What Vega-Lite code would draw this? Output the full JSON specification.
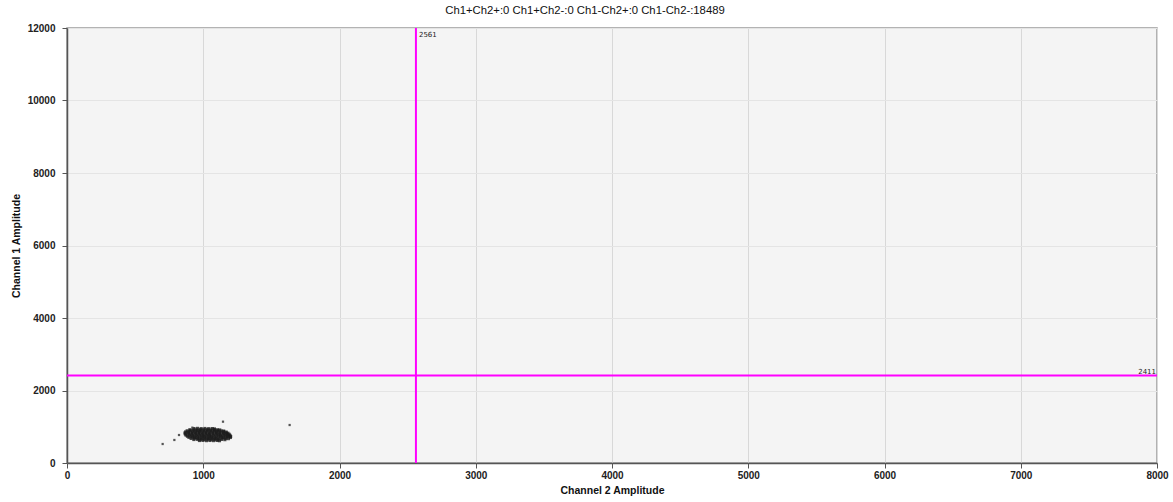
{
  "$schema": "https://vega.github.io/schema/vega-lite/v6.json",
  "width": 1090,
  "height": 435,
  "autosize": {"type": "none"},
  "padding": {"left": 67, "top": 28, "right": 16, "bottom": 39},
  "background": "white",
  "title": {
    "text": "Ch1+Ch2+:0  Ch1+Ch2-:0  Ch1-Ch2+:0  Ch1-Ch2-:18489",
    "font": "Liberation Sans",
    "fontSize": 11.3,
    "fontWeight": 500,
    "color": "#111111",
    "anchor": "middle",
    "dx": -27,
    "offset": 7
  },
  "config": {
    "view": {"fill": "#f4f4f4", "stroke": "#9a9a9a", "strokeWidth": 1.5},
    "axis": {
      "labelFont": "Liberation Sans",
      "labelFontWeight": "bold",
      "labelFontSize": 10,
      "labelColor": "#222222",
      "labelFlush": false,
      "labelOverlap": false,
      "titleFont": "Liberation Sans",
      "titleFontWeight": "bold",
      "titleFontSize": 10.5,
      "titleColor": "#111111",
      "tickColor": "#555555",
      "tickSize": 5,
      "domainColor": "#555555",
      "domainWidth": 1.5
    }
  },
  "datasets": {
    "cluster": [
      {"ch2": 932, "ch1": 950}, {"ch2": 958, "ch1": 955}, {"ch2": 985, "ch1": 948}, {"ch2": 1012, "ch1": 952}, {"ch2": 1040, "ch1": 946}, {"ch2": 1066, "ch1": 950}, {"ch2": 1082, "ch1": 940},
      {"ch2": 902, "ch1": 918}, {"ch2": 927, "ch1": 924}, {"ch2": 951, "ch1": 916}, {"ch2": 978, "ch1": 922}, {"ch2": 1003, "ch1": 918}, {"ch2": 1029, "ch1": 925}, {"ch2": 1054, "ch1": 914}, {"ch2": 1079, "ch1": 921}, {"ch2": 1103, "ch1": 917}, {"ch2": 1121, "ch1": 912},
      {"ch2": 882, "ch1": 888}, {"ch2": 906, "ch1": 893}, {"ch2": 931, "ch1": 886}, {"ch2": 957, "ch1": 891}, {"ch2": 981, "ch1": 895}, {"ch2": 1006, "ch1": 887}, {"ch2": 1032, "ch1": 892}, {"ch2": 1057, "ch1": 885}, {"ch2": 1083, "ch1": 890}, {"ch2": 1108, "ch1": 894}, {"ch2": 1131, "ch1": 886}, {"ch2": 1150, "ch1": 881},
      {"ch2": 871, "ch1": 858}, {"ch2": 895, "ch1": 863}, {"ch2": 921, "ch1": 856}, {"ch2": 946, "ch1": 861}, {"ch2": 972, "ch1": 865}, {"ch2": 997, "ch1": 857}, {"ch2": 1022, "ch1": 862}, {"ch2": 1048, "ch1": 855}, {"ch2": 1073, "ch1": 860}, {"ch2": 1098, "ch1": 864}, {"ch2": 1124, "ch1": 857}, {"ch2": 1149, "ch1": 862}, {"ch2": 1168, "ch1": 853},
      {"ch2": 866, "ch1": 829}, {"ch2": 891, "ch1": 834}, {"ch2": 916, "ch1": 826}, {"ch2": 942, "ch1": 831}, {"ch2": 967, "ch1": 835}, {"ch2": 992, "ch1": 828}, {"ch2": 1018, "ch1": 833}, {"ch2": 1043, "ch1": 826}, {"ch2": 1069, "ch1": 830}, {"ch2": 1094, "ch1": 836}, {"ch2": 1119, "ch1": 828}, {"ch2": 1145, "ch1": 832}, {"ch2": 1168, "ch1": 827}, {"ch2": 1181, "ch1": 822},
      {"ch2": 869, "ch1": 798}, {"ch2": 894, "ch1": 804}, {"ch2": 919, "ch1": 796}, {"ch2": 945, "ch1": 801}, {"ch2": 970, "ch1": 805}, {"ch2": 996, "ch1": 797}, {"ch2": 1021, "ch1": 802}, {"ch2": 1046, "ch1": 795}, {"ch2": 1072, "ch1": 800}, {"ch2": 1097, "ch1": 806}, {"ch2": 1122, "ch1": 798}, {"ch2": 1148, "ch1": 803}, {"ch2": 1172, "ch1": 797}, {"ch2": 1190, "ch1": 792},
      {"ch2": 874, "ch1": 768}, {"ch2": 899, "ch1": 774}, {"ch2": 925, "ch1": 766}, {"ch2": 950, "ch1": 771}, {"ch2": 975, "ch1": 775}, {"ch2": 1001, "ch1": 767}, {"ch2": 1026, "ch1": 772}, {"ch2": 1051, "ch1": 765}, {"ch2": 1077, "ch1": 770}, {"ch2": 1102, "ch1": 776}, {"ch2": 1127, "ch1": 768}, {"ch2": 1153, "ch1": 773}, {"ch2": 1178, "ch1": 766}, {"ch2": 1196, "ch1": 761},
      {"ch2": 884, "ch1": 738}, {"ch2": 909, "ch1": 744}, {"ch2": 934, "ch1": 736}, {"ch2": 960, "ch1": 741}, {"ch2": 985, "ch1": 745}, {"ch2": 1010, "ch1": 737}, {"ch2": 1036, "ch1": 742}, {"ch2": 1061, "ch1": 735}, {"ch2": 1087, "ch1": 740}, {"ch2": 1112, "ch1": 746}, {"ch2": 1137, "ch1": 738}, {"ch2": 1163, "ch1": 743}, {"ch2": 1186, "ch1": 736}, {"ch2": 1201, "ch1": 731},
      {"ch2": 895, "ch1": 708}, {"ch2": 920, "ch1": 714}, {"ch2": 946, "ch1": 706}, {"ch2": 971, "ch1": 711}, {"ch2": 996, "ch1": 715}, {"ch2": 1022, "ch1": 707}, {"ch2": 1047, "ch1": 712}, {"ch2": 1072, "ch1": 705}, {"ch2": 1098, "ch1": 710}, {"ch2": 1123, "ch1": 716}, {"ch2": 1148, "ch1": 708}, {"ch2": 1174, "ch1": 713}, {"ch2": 1199, "ch1": 704},
      {"ch2": 911, "ch1": 678}, {"ch2": 936, "ch1": 684}, {"ch2": 962, "ch1": 676}, {"ch2": 987, "ch1": 681}, {"ch2": 1012, "ch1": 685}, {"ch2": 1038, "ch1": 677}, {"ch2": 1063, "ch1": 682}, {"ch2": 1089, "ch1": 675}, {"ch2": 1114, "ch1": 680}, {"ch2": 1139, "ch1": 686}, {"ch2": 1165, "ch1": 678}, {"ch2": 1185, "ch1": 672},
      {"ch2": 931, "ch1": 648}, {"ch2": 957, "ch1": 653}, {"ch2": 982, "ch1": 646}, {"ch2": 1007, "ch1": 651}, {"ch2": 1033, "ch1": 655}, {"ch2": 1058, "ch1": 647}, {"ch2": 1084, "ch1": 652}, {"ch2": 1109, "ch1": 645}, {"ch2": 1135, "ch1": 650}, {"ch2": 1159, "ch1": 644},
      {"ch2": 972, "ch1": 620}, {"ch2": 998, "ch1": 624}, {"ch2": 1024, "ch1": 617}, {"ch2": 1049, "ch1": 622}, {"ch2": 1075, "ch1": 618}, {"ch2": 1101, "ch1": 623}, {"ch2": 1119, "ch1": 615}
    ],
    "outliers": [
      {"ch2": 702, "ch1": 524},
      {"ch2": 788, "ch1": 635},
      {"ch2": 822, "ch1": 772},
      {"ch2": 920, "ch1": 975},
      {"ch2": 1145, "ch1": 1140},
      {"ch2": 1634, "ch1": 1048}
    ],
    "thresholdCh2": [{"ch2": 2561, "ch1": 12000, "label": "2561"}],
    "thresholdCh1": [{"ch2": 8000, "ch1": 2411, "label": "2411"}]
  },
  "layer": [
    {
      "data": {"name": "cluster"},
      "mark": {"type": "point", "shape": "square", "filled": true, "size": 10, "color": "#1c1c1c", "opacity": 0.8},
      "encoding": {
        "x": {
          "field": "ch2",
          "type": "quantitative",
          "scale": {"domain": [0, 8000], "nice": false},
          "axis": {
            "title": "Channel 2 Amplitude",
            "values": [0, 1000, 2000, 3000, 4000, 5000, 6000, 7000, 8000],
            "format": "d",
            "labelPadding": 2,
            "titlePadding": 5,
            "grid": true,
            "gridColor": "#d8d8d8",
            "gridWidth": 1
          }
        },
        "y": {
          "field": "ch1",
          "type": "quantitative",
          "scale": {"domain": [0, 12000], "nice": false},
          "axis": {
            "title": "Channel 1 Amplitude",
            "values": [0, 2000, 4000, 6000, 8000, 10000, 12000],
            "format": "d",
            "labelPadding": 7,
            "titlePadding": 6,
            "grid": true,
            "gridColor": "#e4e4e4",
            "gridWidth": 1
          }
        }
      }
    },
    {
      "data": {"name": "outliers"},
      "mark": {"type": "point", "shape": "square", "filled": true, "size": 5, "color": "#444444", "opacity": 0.9},
      "encoding": {
        "x": {"field": "ch2", "type": "quantitative"},
        "y": {"field": "ch1", "type": "quantitative"}
      }
    },
    {
      "data": {"name": "thresholdCh2"},
      "mark": {"type": "rule", "color": "#ff00ff", "strokeWidth": 2},
      "encoding": {
        "x": {"field": "ch2", "type": "quantitative"}
      }
    },
    {
      "data": {"name": "thresholdCh1"},
      "mark": {"type": "rule", "color": "#ff00ff", "strokeWidth": 2},
      "encoding": {
        "y": {"field": "ch1", "type": "quantitative"}
      }
    },
    {
      "data": {"name": "thresholdCh2"},
      "mark": {"type": "text", "align": "left", "baseline": "top", "dx": 3, "dy": 3, "font": "DejaVu Sans", "fontSize": 7, "color": "#222222"},
      "encoding": {
        "x": {"field": "ch2", "type": "quantitative"},
        "y": {"field": "ch1", "type": "quantitative"},
        "text": {"field": "label"}
      }
    },
    {
      "data": {"name": "thresholdCh1"},
      "mark": {"type": "text", "align": "right", "baseline": "bottom", "dx": -1, "dy": -1, "font": "DejaVu Sans", "fontSize": 7, "color": "#222222"},
      "encoding": {
        "x": {"field": "ch2", "type": "quantitative"},
        "y": {"field": "ch1", "type": "quantitative"},
        "text": {"field": "label"}
      }
    }
  ]
}
